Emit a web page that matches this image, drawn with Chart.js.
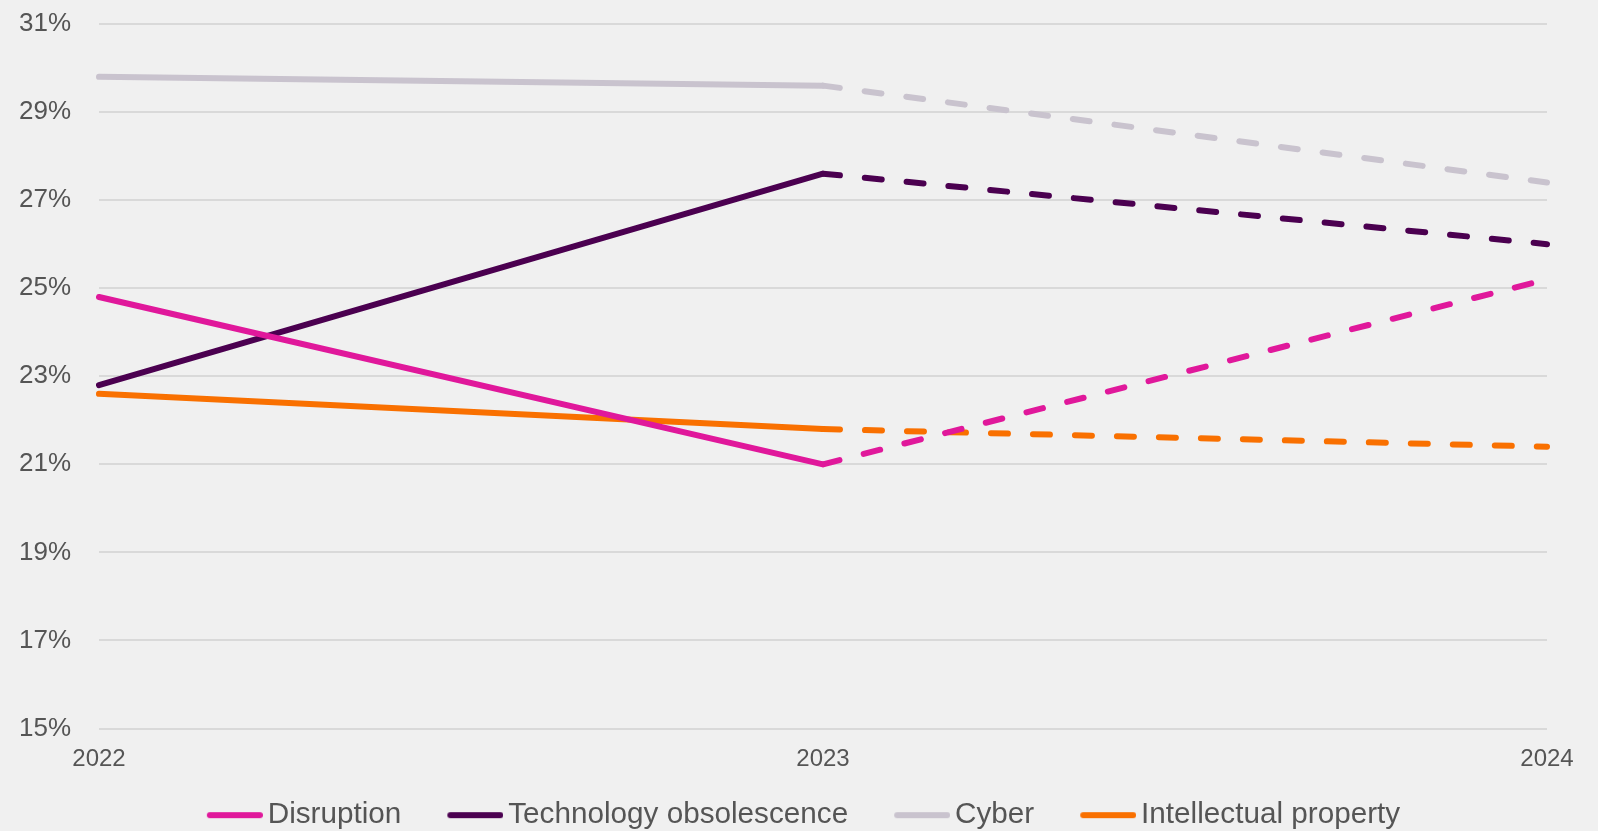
<!DOCTYPE html>
<html>
<head>
<meta charset="utf-8">
<script src="https://cdn.jsdelivr.net/npm/chart.js@4/dist/chart.umd.min.js"></script>
<style>
  html, body { margin: 0; padding: 0; background: #f0f0f0; }
  #wrap { width: 1598px; height: 831px; }
</style>
</head>
<body>
<div id="wrap"><canvas id="riskChart"></canvas></div>
<script>
// years on the x axis
var years = ['2022', '2023', '2024'];

// share of respondents (%), last step drawn dashed
var disruption   = [24.8, 21.0, 25.2];
var techObsol    = [22.8, 27.6, 26.0];
var cyber        = [29.8, 29.6, 27.4];
var intellectual = [22.6, 21.8, 21.4];

var seriesNames  = ['Disruption', 'Technology obsolescence', 'Cyber', 'Intellectual property'];
var seriesColors = ['#e0189b', '#4b0050', '#c9c3ce', '#f97000'];

var FONT = '"Liberation Sans", Arial, sans-serif';

function dashAfterFirst(ctx) {
  return ctx.p0DataIndex >= 1 ? [17, 25] : undefined;
}

// small line swatch used as the legend marker
function legendSwatch(color) {
  var c = document.createElement('canvas');
  c.width = 66;
  c.height = 8;
  var g = c.getContext('2d');
  g.strokeStyle = color;
  g.lineWidth = 6;
  g.lineCap = 'round';
  g.beginPath();
  g.moveTo(13, 4);
  g.lineTo(63, 4);
  g.stroke();
  return c;
}

function makeSet(i, values) {
  return {
    label: seriesNames[i],
    data: values,
    borderColor: seriesColors[i],
    backgroundColor: seriesColors[i],
    borderWidth: 6,
    borderCapStyle: 'round',
    borderJoinStyle: 'round',
    pointStyle: legendSwatch(seriesColors[i]),
    pointRadius: 0,
    pointHoverRadius: 0,
    tension: 0,
    fill: false,
    segment: { borderDash: dashAfterFirst }
  };
}

// move the legend row up and right (its padding also sets the item spacing)
var legendShift = {
  id: 'legendShift',
  afterLayout: function (chart) {
    var lg = chart.legend;
    if (!lg) return;
    lg.top -= 35;
    lg.bottom -= 35;
    lg.left += 30;
    lg.right += 30;
  }
};

new Chart(document.getElementById('riskChart'), {
  type: 'line',
  plugins: [legendShift],
  data: {
    labels: years,
    datasets: [
      makeSet(0, disruption),
      makeSet(1, techObsol),
      makeSet(2, cyber),
      makeSet(3, intellectual)
    ]
  },
  options: {
    responsive: true,
    maintainAspectRatio: false,
    animation: false,
    layout: { padding: { top: 24, right: 51, left: 0, bottom: -44 } },
    plugins: {
      tooltip: { enabled: false },
      legend: {
        position: 'bottom',
        labels: {
          usePointStyle: true,
          pointStyleWidth: 46,
          boxHeight: 8,
          padding: 46,
          color: '#555555',
          font: { family: FONT, size: 29.7 }
        }
      }
    },
    scales: {
      x: {
        offset: false,
        grid: { display: false, drawTicks: false },
        border: { display: false },
        ticks: {
          color: '#555555',
          padding: 16,
          maxRotation: 0,
          font: { family: FONT, size: 24 }
        }
      },
      y: {
        min: 15,
        max: 31,
        afterFit: function (scale) {
          scale.width = 99;
          scale.paddingTop = 0;
          scale.paddingBottom = 0;
        },
        grid: { color: '#d9d9d9', lineWidth: 2, drawTicks: false },
        border: { display: false },
        ticks: {
          stepSize: 2,
          padding: 28,
          color: '#555555',
          font: { family: FONT, size: 26 },
          callback: function (v) { return v + '%'; }
        }
      }
    }
  }
});
</script>
</body>
</html>
